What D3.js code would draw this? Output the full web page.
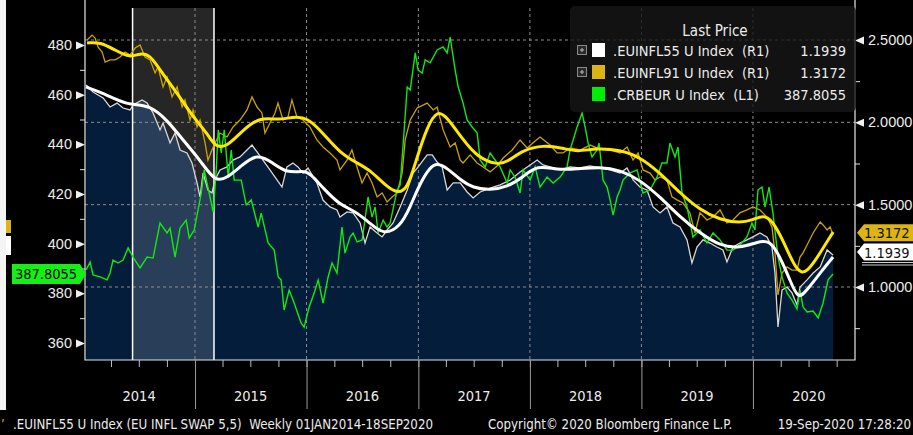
<!DOCTYPE html>
<html>
<head>
<meta charset="utf-8">
<script src="https://cdn.jsdelivr.net/npm/d3@7"></script>
<style>
  body { margin: 0; background: #000; }
  svg { display: block; font-family: "DejaVu Sans Condensed", "DejaVu Sans", sans-serif; font-stretch: condensed; }
</style>
</head>
<body>
<svg width="913" height="435"></svg>
<script>
// weekly closes, as [decimal year, value]
const crbeur = [[2014.023,389.4],[2014.059,392.6],[2014.086,387.4],[2014.149,386.6],[2014.211,385.4],[2014.238,388.2],[2014.265,393.4],[2014.310,392.2],[2014.355,393.4],[2014.400,398.3],[2014.444,394.6],[2014.507,390.2],[2014.570,394.6],[2014.624,394.2],[2014.686,408.3],[2014.749,404.3],[2014.776,406.3],[2014.821,394.6],[2014.866,406.3],[2014.921,409.5],[2014.948,402.3],[2014.993,405.5],[2015.056,420.4],[2015.082,429.7],[2015.127,420.4],[2015.163,412.7],[2015.190,429.7],[2015.208,445.8],[2015.235,436.5],[2015.262,445.8],[2015.298,426.8],[2015.325,437.7],[2015.351,425.6],[2015.414,425.6],[2015.459,415.6],[2015.504,417.6],[2015.566,406.7],[2015.593,412.3],[2015.656,400.3],[2015.710,397.4],[2015.746,386.6],[2015.772,385.4],[2015.799,373.3],[2015.844,381.3],[2015.889,376.1],[2015.951,368.1],[2015.978,366.4],[2016.023,374.5],[2016.068,380.1],[2016.104,385.4],[2016.148,376.1],[2016.193,386.6],[2016.228,392.2],[2016.272,388.2],[2016.317,406.7],[2016.344,396.2],[2016.389,402.7],[2016.416,404.3],[2016.452,400.7],[2016.497,401.5],[2016.506,404.3],[2016.550,418.8],[2016.586,410.7],[2016.613,414.8],[2016.640,404.3],[2016.685,409.5],[2016.720,406.7],[2016.747,408.3],[2016.810,421.6],[2016.837,423.6],[2016.873,445.8],[2016.900,463.1],[2016.927,461.9],[2016.972,476.8],[2016.998,469.9],[2017.034,468.7],[2017.061,474.0],[2017.106,472.8],[2017.168,478.0],[2017.222,479.2],[2017.258,476.8],[2017.285,483.2],[2017.330,469.9],[2017.357,463.1],[2017.401,456.6],[2017.437,449.8],[2017.482,447.0],[2017.527,444.6],[2017.554,433.7],[2017.599,430.9],[2017.643,436.5],[2017.688,433.7],[2017.733,430.9],[2017.796,424.4],[2017.823,429.7],[2017.867,426.8],[2017.912,420.4],[2017.939,429.7],[2018.002,425.6],[2018.047,430.9],[2018.091,422.8],[2018.154,426.8],[2018.208,424.4],[2018.271,426.8],[2018.333,430.9],[2018.360,437.7],[2018.423,447.0],[2018.468,452.6],[2018.495,447.0],[2018.522,440.5],[2018.557,434.9],[2018.602,437.7],[2018.620,440.5],[2018.656,425.6],[2018.692,422.8],[2018.719,417.6],[2018.746,411.5],[2018.782,418.8],[2018.808,421.6],[2018.835,425.6],[2018.898,428.5],[2018.961,429.7],[2019.014,420.4],[2019.077,421.6],[2019.140,426.8],[2019.184,432.5],[2019.229,432.5],[2019.256,440.5],[2019.301,434.9],[2019.328,438.9],[2019.364,420.4],[2019.409,414.8],[2019.462,402.7],[2019.525,405.5],[2019.588,400.3],[2019.642,404.3],[2019.705,401.5],[2019.767,397.4],[2019.821,397.4],[2019.884,399.5],[2019.946,402.7],[2019.991,408.3],[2020.018,405.5],[2020.045,421.6],[2020.081,422.8],[2020.108,414.8],[2020.144,422.8],[2020.179,412.3],[2020.224,394.6],[2020.260,386.6],[2020.305,380.1],[2020.349,377.3],[2020.394,373.7],[2020.421,381.3],[2020.448,374.5],[2020.484,372.5],[2020.538,372.9],[2020.583,370.1],[2020.627,376.1],[2020.672,385.4],[2020.716,387.8055]];

const infl55 = [[2014.023,2.227],[2014.086,2.184],[2014.176,2.148],[2014.238,2.093],[2014.301,2.117],[2014.355,2.087],[2014.418,2.075],[2014.444,2.105],[2014.525,2.136],[2014.570,2.117],[2014.624,2.057],[2014.686,1.954],[2014.713,1.996],[2014.776,1.875],[2014.821,1.935],[2014.866,1.832],[2014.928,1.814],[2014.973,1.753],[2015.018,1.632],[2015.045,1.547],[2015.072,1.692],[2015.116,1.589],[2015.152,1.571],[2015.179,1.650],[2015.224,1.711],[2015.287,1.729],[2015.341,1.771],[2015.403,1.790],[2015.466,1.832],[2015.511,1.862],[2015.556,1.820],[2015.609,1.771],[2015.672,1.711],[2015.735,1.650],[2015.780,1.607],[2015.824,1.729],[2015.878,1.753],[2015.923,1.729],[2015.968,1.692],[2016.013,1.723],[2016.093,1.632],[2016.147,1.528],[2016.210,1.486],[2016.272,1.468],[2016.299,1.425],[2016.362,1.456],[2016.416,1.450],[2016.479,1.389],[2016.523,1.267],[2016.568,1.365],[2016.631,1.328],[2016.676,1.304],[2016.720,1.346],[2016.774,1.389],[2016.837,1.486],[2016.900,1.589],[2016.953,1.692],[2016.998,1.729],[2017.079,1.802],[2017.124,1.802],[2017.168,1.759],[2017.213,1.729],[2017.258,1.589],[2017.312,1.632],[2017.375,1.632],[2017.437,1.577],[2017.491,1.541],[2017.554,1.577],[2017.643,1.601],[2017.733,1.620],[2017.823,1.650],[2017.912,1.699],[2018.002,1.741],[2018.065,1.771],[2018.118,1.741],[2018.181,1.729],[2018.271,1.711],[2018.360,1.729],[2018.450,1.723],[2018.540,1.735],[2018.629,1.723],[2018.719,1.711],[2018.808,1.692],[2018.871,1.723],[2018.925,1.650],[2018.987,1.607],[2019.050,1.589],[2019.104,1.486],[2019.167,1.450],[2019.229,1.486],[2019.283,1.389],[2019.346,1.365],[2019.409,1.286],[2019.453,1.146],[2019.498,1.243],[2019.552,1.286],[2019.614,1.267],[2019.677,1.243],[2019.731,1.225],[2019.767,1.152],[2019.821,1.243],[2019.884,1.267],[2019.946,1.286],[2020.000,1.304],[2020.063,1.328],[2020.125,1.304],[2020.170,1.243],[2020.197,1.085],[2020.224,0.757],[2020.260,0.982],[2020.305,1.000],[2020.349,0.964],[2020.394,0.891],[2020.421,1.000],[2020.484,1.043],[2020.538,1.085],[2020.601,1.122],[2020.663,1.225],[2020.716,1.1939]];

const infl55Avg = [[2014.023,2.215],[2014.149,2.184],[2014.283,2.142],[2014.418,2.105],[2014.597,2.105],[2014.749,2.014],[2014.892,1.893],[2015.045,1.771],[2015.179,1.638],[2015.287,1.662],[2015.403,1.729],[2015.556,1.814],[2015.699,1.753],[2015.824,1.692],[2015.968,1.705],[2016.030,1.692],[2016.147,1.601],[2016.299,1.498],[2016.416,1.468],[2016.568,1.389],[2016.685,1.316],[2016.837,1.365],[2016.927,1.486],[2017.016,1.632],[2017.106,1.729],[2017.168,1.753],[2017.258,1.723],[2017.375,1.650],[2017.491,1.601],[2017.643,1.589],[2017.796,1.607],[2017.939,1.668],[2018.065,1.741],[2018.244,1.711],[2018.423,1.717],[2018.629,1.729],[2018.808,1.711],[2018.987,1.650],[2019.167,1.547],[2019.346,1.425],[2019.525,1.328],[2019.705,1.249],[2019.884,1.237],[2020.036,1.273],[2020.152,1.286],[2020.242,1.182],[2020.331,1.043],[2020.403,0.921],[2020.484,0.982],[2020.601,1.085],[2020.716,1.182]];

const infl91 = [[2014.032,2.500],[2014.077,2.530],[2014.104,2.512],[2014.131,2.457],[2014.167,2.427],[2014.194,2.366],[2014.238,2.379],[2014.283,2.379],[2014.328,2.397],[2014.373,2.427],[2014.418,2.409],[2014.463,2.451],[2014.507,2.470],[2014.552,2.397],[2014.597,2.379],[2014.642,2.300],[2014.668,2.336],[2014.713,2.215],[2014.749,2.275],[2014.794,2.154],[2014.839,2.215],[2014.884,2.093],[2014.910,2.136],[2014.955,2.014],[2014.982,2.075],[2015.018,1.972],[2015.045,2.014],[2015.090,1.875],[2015.116,1.771],[2015.152,1.832],[2015.179,1.875],[2015.224,1.935],[2015.287,1.911],[2015.341,1.972],[2015.403,2.014],[2015.466,2.075],[2015.511,2.154],[2015.556,2.093],[2015.600,2.057],[2015.627,1.935],[2015.672,1.996],[2015.717,2.057],[2015.744,2.117],[2015.789,2.014],[2015.833,2.032],[2015.869,2.136],[2015.914,2.032],[2015.968,2.014],[2016.030,1.972],[2016.093,1.893],[2016.147,1.850],[2016.210,1.814],[2016.272,1.771],[2016.299,1.711],[2016.362,1.771],[2016.406,1.832],[2016.451,1.729],[2016.496,1.632],[2016.541,1.692],[2016.586,1.632],[2016.631,1.547],[2016.676,1.571],[2016.720,1.516],[2016.765,1.547],[2016.810,1.571],[2016.855,1.692],[2016.882,1.893],[2016.927,2.014],[2016.989,2.087],[2017.079,2.117],[2017.133,2.075],[2017.168,2.093],[2017.222,1.954],[2017.285,1.850],[2017.330,1.875],[2017.375,1.771],[2017.401,1.753],[2017.464,1.802],[2017.527,1.753],[2017.581,1.729],[2017.643,1.699],[2017.706,1.735],[2017.760,1.783],[2017.841,1.832],[2017.912,1.893],[2017.975,1.844],[2018.047,1.887],[2018.091,1.911],[2018.181,1.862],[2018.244,1.814],[2018.297,1.814],[2018.360,1.844],[2018.450,1.832],[2018.540,1.862],[2018.629,1.838],[2018.719,1.832],[2018.808,1.814],[2018.871,1.850],[2018.925,1.771],[2018.970,1.814],[2019.014,1.711],[2019.077,1.692],[2019.122,1.650],[2019.167,1.668],[2019.229,1.650],[2019.274,1.547],[2019.319,1.529],[2019.373,1.510],[2019.435,1.450],[2019.480,1.328],[2019.525,1.450],[2019.588,1.407],[2019.642,1.425],[2019.705,1.468],[2019.767,1.389],[2019.821,1.407],[2019.884,1.450],[2019.946,1.468],[2020.000,1.486],[2020.063,1.468],[2020.125,1.425],[2020.170,1.365],[2020.197,1.207],[2020.224,0.952],[2020.260,1.085],[2020.305,1.122],[2020.349,1.103],[2020.394,1.103],[2020.421,1.182],[2020.448,1.207],[2020.493,1.267],[2020.538,1.328],[2020.601,1.395],[2020.627,1.377],[2020.663,1.346],[2020.690,1.365],[2020.716,1.3172]];

const infl91Avg = [[2014.032,2.482],[2014.149,2.488],[2014.283,2.439],[2014.418,2.391],[2014.507,2.421],[2014.597,2.409],[2014.686,2.318],[2014.839,2.178],[2014.982,2.032],[2015.108,1.935],[2015.179,1.850],[2015.287,1.850],[2015.430,1.954],[2015.582,2.032],[2015.735,2.014],[2015.878,2.032],[2016.004,2.032],[2016.147,1.935],[2016.299,1.814],[2016.451,1.753],[2016.568,1.711],[2016.720,1.607],[2016.810,1.571],[2016.900,1.589],[2016.989,1.790],[2017.079,1.972],[2017.168,2.075],[2017.258,2.032],[2017.401,1.893],[2017.527,1.790],[2017.706,1.741],[2017.796,1.759],[2017.939,1.832],[2018.118,1.862],[2018.297,1.844],[2018.423,1.820],[2018.602,1.844],[2018.808,1.832],[2018.987,1.790],[2019.167,1.692],[2019.346,1.571],[2019.525,1.468],[2019.705,1.407],[2019.884,1.389],[2020.000,1.407],[2020.090,1.437],[2020.170,1.407],[2020.269,1.286],[2020.394,1.085],[2020.484,1.085],[2020.601,1.207],[2020.717,1.334]];

const band = [2014.44, 2015.17];               // shaded period
const yearLabels = [2014, 2015, 2016, 2017, 2018, 2019, 2020];
const leftTicks = [360, 380, 400, 420, 440, 460, 480];
const leftMinor = [370, 390, 410, 430, 450, 470];
const rightTicks = [1.0, 1.5, 2.0, 2.5];
const rightMinor = [0.75, 1.25, 1.75, 2.25];

const legendRows = [
  {name: '.EUINFL55 U Index', axis: '(R1)', last: '1.1939', color: '#ffffff', plus: true},
  {name: '.EUINFL91 U Index', axis: '(R1)', last: '1.3172', color: '#dcb414', plus: true},
  {name: '.CRBEUR U Index', axis: '(L1)', last: '387.8055', color: '#00ee00', plus: false}
];

const svg = d3.select('svg'),
  width = +svg.attr('width'),
  height = +svg.attr('height');

const pL = 85, pR = 855, pT = 8, pB = 360;

const toDate = t => {
  const y = Math.floor(t), a = new Date(y, 0, 1), b = new Date(y + 1, 0, 1);
  return new Date(+a + (t - y) * (b - a));
};

const x = d3.scaleTime()
  .domain([new Date(2014, 0, 1), new Date(2020, 11, 1)])
  .range([83.5, 855.3]);
const yL = d3.scaleLinear().domain([360, 480]).range([343, 45]);
const yR = d3.scaleLinear().domain([1, 2.5]).range([287, 40]);

svg.append('rect').attr('width', width).attr('height', height).attr('fill', '#000');
svg.append('rect').attr('x', 0).attr('y', 0).attr('width', 6).attr('height', 410).attr('fill', '#f4f4f4');

svg.append('clipPath').attr('id', 'plot')
  .append('rect').attr('x', pL).attr('y', 0).attr('width', pR - pL).attr('height', pB);

const g = svg.append('g').attr('clip-path', 'url(#plot)');

// mountain under EUINFL55
g.append('path')
  .datum(infl55)
  .attr('fill', '#041d3b')
  .attr('d', d3.area()
    .x(d => x(toDate(d[0])))
    .y0(pB)
    .y1(d => yR(d[1])));

// highlighted window
const bx0 = x(toDate(band[0])), bx1 = x(toDate(band[1]));
g.append('rect')
  .attr('x', bx0).attr('y', pT)
  .attr('width', bx1 - bx0).attr('height', pB - pT)
  .attr('fill', '#fff').attr('opacity', 0.15);

// grid
g.selectAll('.hgrid')
  .data(rightTicks)
  .enter().append('line')
  .attr('x1', pL).attr('x2', pR)
  .attr('y1', d => yR(d)).attr('y2', d => yR(d))
  .attr('stroke', '#8c8c8c').attr('stroke-dasharray', '3,3');

g.selectAll('.vgrid')
  .data(yearLabels.slice(1))
  .enter().append('line')
  .attr('x1', d => x(new Date(d, 0, 1))).attr('x2', d => x(new Date(d, 0, 1)))
  .attr('y1', pT).attr('y2', pB)
  .attr('stroke', '#8c8c8c').attr('stroke-dasharray', '3,3');

g.selectAll('.bandline')
  .data(band)
  .enter().append('line')
  .attr('x1', d => x(toDate(d))).attr('x2', d => x(toDate(d)))
  .attr('y1', pT).attr('y2', pB)
  .attr('stroke', '#fff').attr('stroke-width', 1.5);

const lineR = d3.line().x(d => x(toDate(d[0]))).y(d => yR(d[1]));
const smoothR = d3.line().curve(d3.curveBasis).x(d => x(toDate(d[0]))).y(d => yR(d[1]));
const lineL = d3.line().x(d => x(toDate(d[0]))).y(d => yL(d[1]));

g.append('path').datum(infl91).attr('fill', 'none').attr('stroke', '#c9a208').attr('stroke-width', 1.3).attr('d', lineR);
g.append('path').datum(infl55).attr('fill', 'none').attr('stroke', '#d8d8d8').attr('stroke-width', 1.3).attr('d', lineR);
g.append('path').datum(crbeur).attr('fill', 'none').attr('stroke', '#12e812').attr('stroke-width', 1.4).attr('d', lineL);
g.append('path').datum(infl91Avg).attr('fill', 'none').attr('stroke', '#ffe800').attr('stroke-width', 3).attr('d', smoothR);
g.append('path').datum(infl55Avg).attr('fill', 'none').attr('stroke', '#ffffff').attr('stroke-width', 3).attr('d', smoothR);

// frame
svg.append('path')
  .attr('d', `M${pL},0V${pB}H${pR}V0`)
  .attr('fill', 'none').attr('stroke', '#e6e6e6').attr('stroke-width', 1.2);

// left axis
const axL = svg.append('g').attr('transform', `translate(${pL},0)`)
  .call(d3.axisLeft(yL).tickValues(leftTicks).tickSize(0).tickPadding(13));
axL.select('.domain').remove();
axL.selectAll('text').attr('fill', '#ececec').attr('font-size', 14.5).attr('font-family', null);
axL.selectAll('.tick').append('path').attr('d', 'M0,0L-9,-4L-9,4Z').attr('fill', '#f0f0f0');
const axLm = svg.append('g').attr('transform', `translate(${pL},0)`)
  .call(d3.axisLeft(yL).tickValues(leftMinor).tickSize(5).tickFormat(''));
axLm.select('.domain').remove();
axLm.selectAll('line').attr('stroke', '#e0e0e0');

// right axis
const axR = svg.append('g').attr('transform', `translate(${pR},0)`)
  .call(d3.axisRight(yR).tickValues(rightTicks).tickSize(0).tickPadding(13).tickFormat(d3.format('.4f')));
axR.select('.domain').remove();
axR.selectAll('text').attr('fill', '#ececec').attr('font-size', 14.5).attr('font-family', null);
axR.selectAll('.tick').append('path').attr('d', 'M0,0L9,-4L9,4Z').attr('fill', '#f0f0f0');
const axRm = svg.append('g').attr('transform', `translate(${pR},0)`)
  .call(d3.axisRight(yR).tickValues(rightMinor).tickSize(5).tickFormat(''));
axRm.select('.domain').remove();
axRm.selectAll('line').attr('stroke', '#e0e0e0');

// time axis: quarters and year separators
const axQ = svg.append('g').attr('transform', `translate(0,${pB})`)
  .call(d3.axisBottom(x).ticks(d3.timeMonth.every(3)).tickSize(7).tickFormat(''));
axQ.select('.domain').remove();
axQ.selectAll('line').attr('stroke', '#bdbdbd');
axQ.selectAll('.tick').filter(d => d < new Date(2014, 1, 1)).remove();

const axY = svg.append('g').attr('transform', `translate(0,${pB})`)
  .call(d3.axisBottom(x).tickValues(yearLabels.slice(1).map(d => new Date(d, 0, 1))).tickSize(49).tickFormat(''));
axY.select('.domain').remove();
axY.selectAll('line').attr('stroke', '#9a9a9a');

svg.append('g').selectAll('text')
  .data(yearLabels)
  .enter().append('text')
  .attr('x', d => x(new Date(d, 6, 2)))
  .attr('y', 401)
  .attr('text-anchor', 'middle')
  .attr('fill', '#ececec')
  .attr('font-size', 14.5)
  .text(d => d);

// legend
const lg = svg.append('g');
lg.append('rect')
  .attr('x', 570).attr('y', 6).attr('width', 286).attr('height', 106).attr('rx', 5)
  .attr('fill', '#161616').attr('opacity', 0.8);
lg.append('text').attr('x', 715).attr('y', 36).attr('text-anchor', 'middle')
  .attr('fill', '#ececec').attr('font-size', 15).text('Last Price');
const row = lg.selectAll('.row')
  .data(legendRows)
  .enter().append('g')
  .attr('transform', (d, i) => `translate(0,${50 + i * 22})`);
row.filter(d => d.plus).append('rect')
  .attr('x', 577.5).attr('y', -4.5).attr('width', 9).attr('height', 9)
  .attr('fill', '#2a2a2a').attr('stroke', '#8a8a8a');
row.filter(d => d.plus).append('path')
  .attr('d', 'M580,0H584M582,-2V2').attr('stroke', '#bbb');
row.append('rect')
  .attr('x', 592).attr('y', -7).attr('width', 13).attr('height', 14)
  .attr('fill', d => d.color);
row.append('text').attr('x', 613).attr('y', 5.5)
  .attr('fill', '#ececec').attr('font-size', 14.5).attr('xml:space', 'preserve')
  .text(d => `${d.name}  ${d.axis}`);
row.append('text').attr('x', 846).attr('y', 5.5).attr('text-anchor', 'end')
  .attr('fill', '#ececec').attr('font-size', 14.5)
  .text(d => d.last);

// last-value tags
const tags = svg.append('g');
const lastGreen = crbeur[crbeur.length - 1][1];
const gy = yL(lastGreen);
tags.append('path')
  .attr('d', `M12,${gy - 10}H80L86,${gy}L80,${gy + 10}H12Z`)
  .attr('fill', '#14f014');
tags.append('text').attr('x', 46).attr('y', gy + 5.5).attr('text-anchor', 'middle')
  .attr('fill', '#000').attr('font-size', 14.5).text(legendRows[2].last);

const rTags = [
  {v: infl91[infl91.length - 1][1], color: '#dcb414', label: legendRows[1].last},
  {v: infl55[infl55.length - 1][1], color: '#ffffff', label: legendRows[0].last}
];
rTags.forEach((t, i) => {
  const ty = i === 0 ? yR(t.v) - 2 : yR(t.v) - 3;
  tags.append('path')
    .attr('d', `M857,${ty}L864,${ty - 8.5}H913V${ty + 8.5}H864Z`)
    .attr('fill', t.color);
  tags.append('text').attr('x', 864).attr('y', ty + 5.5)
    .attr('fill', '#111').attr('font-size', 14.5).text(t.label);
});
tags.append('path').attr('d', 'M862,262.5H913M862,265H913').attr('stroke', '#cfcfcf');
tags.append('rect').attr('x', 6).attr('y', 220).attr('width', 5).attr('height', 13).attr('fill', '#dcb414');
tags.append('rect').attr('x', 6).attr('y', 236).attr('width', 5).attr('height', 19).attr('fill', '#ffffff');

// footer
const foot = svg.append('g').attr('font-size', 13.2).attr('fill', '#ececec');
foot.append('text').attr('x', 1).attr('y', 429).attr('fill', '#e8a020').text('\u2019');
foot.append('text').attr('x', 13).attr('y', 429).attr('xml:space', 'preserve')
  .text('.EUINFL55 U Index (EU INFL SWAP 5,5)  Weekly 01JAN2014-18SEP2020');
foot.append('text').attr('x', 488).attr('y', 429).text('Copyright\u00a9 2020 Bloomberg Finance L.P.');
foot.append('text').attr('x', 911).attr('y', 429).attr('text-anchor', 'end').text('19-Sep-2020 17:28:20');
</script>
</body>
</html>
